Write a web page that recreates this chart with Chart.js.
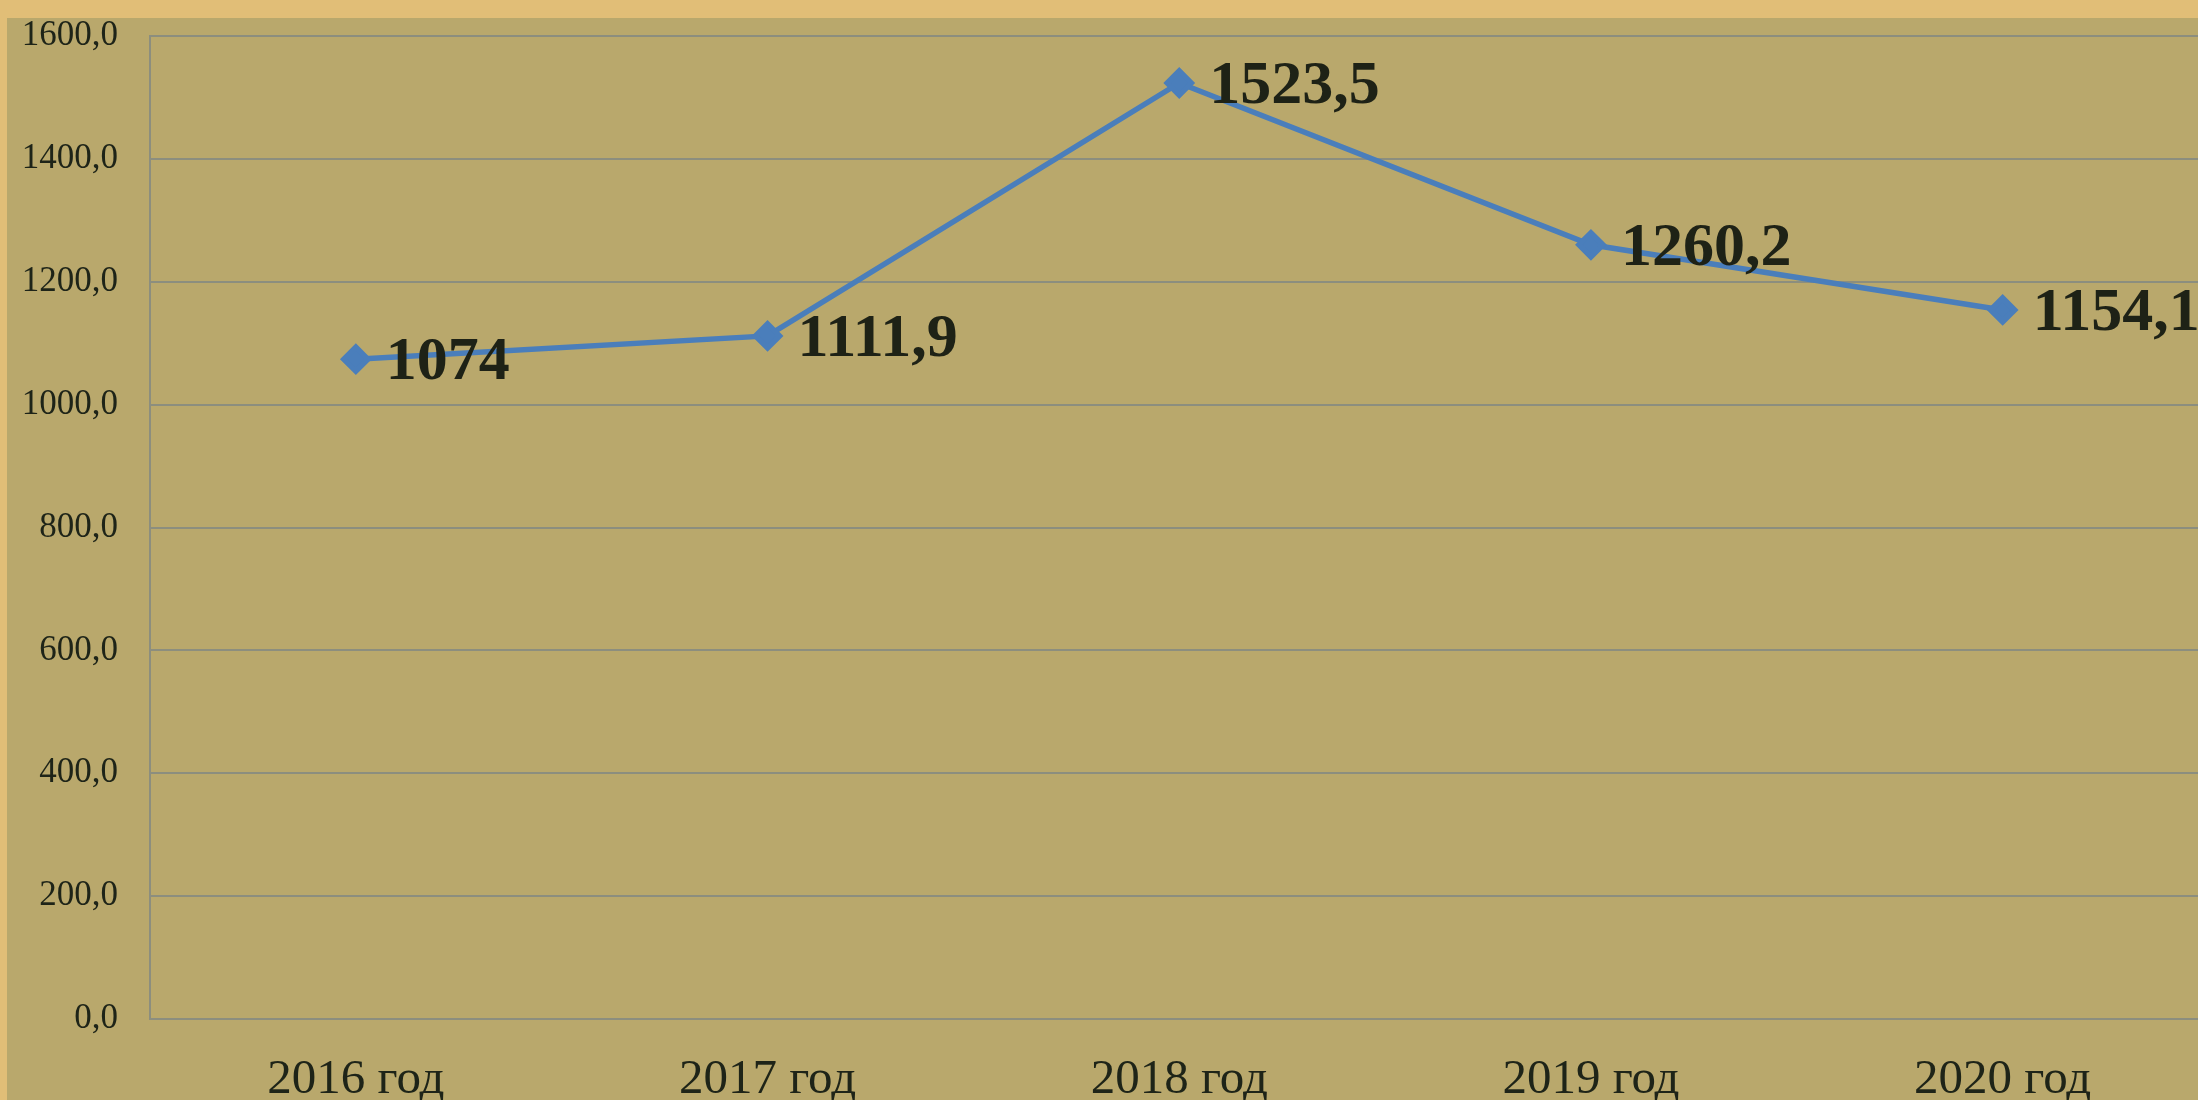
<!DOCTYPE html>
<html>
<head>
<meta charset="utf-8">
<script src="https://cdn.jsdelivr.net/npm/chart.js@4/dist/chart.umd.min.js"></script>
<style>
  html, body { margin: 0; padding: 0; overflow: hidden; background: #E1BE77; width: 2198px; height: 1100px; }
  #panel { position: absolute; left: 7px; top: 18px; width: 2300px; height: 1200px; background: #B9A86C; }
  #c { position: absolute; left: 0; top: -17px; }
</style>
</head>
<body>
<div id="panel"></div>
<canvas id="c" width="2226" height="1147"></canvas>
<script>
const categories = ['2016 год', '2017 год', '2018 год', '2019 год', '2020 год'];
const values = [1074, 1111.9, 1523.5, 1260.2, 1154.1];
const yTicks = [0, 200, 400, 600, 800, 1000, 1200, 1400, 1600];

const fmtComma = v => String(v).replace('.', ',');

const valueLabels = {
  id: 'valueLabels',
  afterDatasetsDraw(chart) {
    const ctx = chart.ctx;
    const meta = chart.getDatasetMeta(0);
    ctx.save();
    ctx.font = 'bold 62px "Liberation Serif", "DejaVu Serif", serif';
    ctx.fillStyle = '#1E2216';
    ctx.textAlign = 'left';
    ctx.textBaseline = 'middle';
    meta.data.forEach((pt, i) => {
      ctx.fillText(fmtComma(values[i]), pt.x + 30, pt.y + 4);
    });
    ctx.restore();
  }
};

new Chart(document.getElementById('c'), {
  type: 'line',
  data: {
    labels: categories,
    datasets: [{
      data: values,
      borderColor: '#4A7EBB',
      backgroundColor: '#4A7EBB',
      borderWidth: 5.5,
      pointStyle: 'rectRot',
      pointRadius: 12,
      pointHoverRadius: 12,
      tension: 0,
      fill: false
    }]
  },
  options: {
    responsive: false,
    animation: false,
    layout: { padding: { top: 0, right: 2, bottom: 0, left: 0 } },
    plugins: { legend: { display: false }, tooltip: { enabled: false } },
    scales: {
      x: {
        offset: true,
        grid: { display: false, drawTicks: false },
        border: { display: true, color: '#8C8E7E', width: 2 },
        ticks: {
          color: '#1E2418',
          font: { family: '"Liberation Serif", "DejaVu Serif", serif', size: 49 },
          padding: 32,
          maxRotation: 0,
          autoSkip: false
        },
        afterFit(scale) { scale.height = 1147 - 1036; }
      },
      y: {
        min: 0,
        max: 1600,
        afterBuildTicks(scale) { scale.ticks = yTicks.map(v => ({ value: v })); },
        grid: { color: '#8C8E7E', lineWidth: 2, drawTicks: false },
        border: { display: true, color: '#8C8E7E', width: 2 },
        ticks: {
          color: '#1E2418',
          font: { family: '"Liberation Serif", "DejaVu Serif", serif', size: 35 },
          padding: 32,
          callback: v => Number(v).toFixed(1).replace('.', ',')
        },
        afterFit(scale) { scale.width = 150; }
      }
    }
  },
  plugins: [valueLabels]
});
</script>
</body>
</html>
